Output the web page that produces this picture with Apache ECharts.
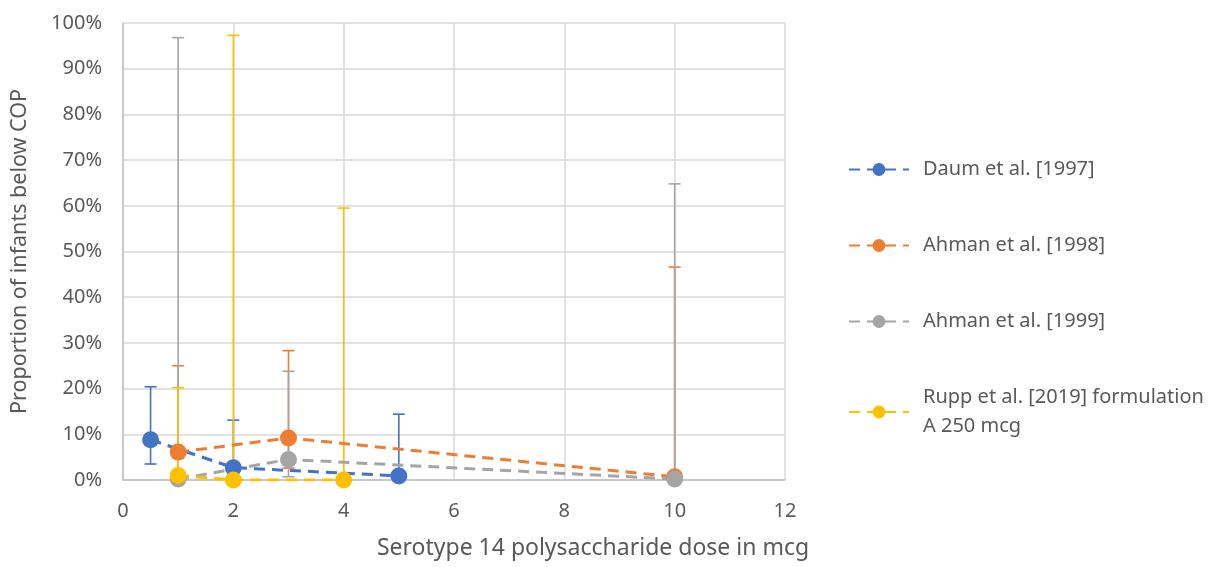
<!DOCTYPE html>
<html><head><meta charset="utf-8">
<script src="https://cdn.jsdelivr.net/npm/echarts@6/dist/echarts.min.js"></script>
<style>html,body{margin:0;padding:0;background:#fff}#c{width:1227px;height:567px}</style>
</head><body><div id="c"></div>
<script>
// Data (proportion in %)
const seriesNames = ['Daum et al. [1997]', 'Ahman et al. [1998]', 'Ahman et al. [1999]', 'Rupp et al. [2019] formulation\nA 250 mcg'];
const colors = ['#4472C4', '#ED7D31', '#A5A5A5', '#FFC000'];
const daumX = [0.5, 2, 5];
const daumY = [8.8, 2.7, 0.9];
const daumLo = [3.5, 2.7, 0.9];
const daumHi = [20.4, 13.1, 14.4];
const ahman98X = [1, 3, 10];
const ahman98Y = [6.1, 9.2, 0.7];
const ahman98Lo = [1.2, 2.6, 0.7];
const ahman98Hi = [25.0, 28.3, 46.6];
const ahman99X = [1, 3, 10];
const ahman99Y = [0.2, 4.5, 0.2];
const ahman99Lo = [0.2, 0.7, 0.2];
const ahman99Hi = [96.8, 23.8, 64.8];
const ruppX = [1, 2, 4];
const ruppY = [1.0, 0.0, 0.0];
const ruppLo = [1.0, 0.0, 0.0];
const ruppHi = [20.2, 97.3, 59.5];
const xTicks = [0, 2, 4, 6, 8, 10, 12];
const yTicks = [0, 10, 20, 30, 40, 50, 60, 70, 80, 90, 100];

const groups = [
  [daumX, daumY, daumLo, daumHi],
  [ahman98X, ahman98Y, ahman98Lo, ahman98Hi],
  [ahman99X, ahman99Y, ahman99Lo, ahman99Hi],
  [ruppX, ruppY, ruppLo, ruppHi]
];
const series = [];
groups.forEach((g, i) => {
  series.push({
    type: 'custom', name: seriesNames[i] + '_err', z: 1, silent: true,
    data: g[0].map((x, k) => [x, g[2][k], g[3][k]]),
    renderItem: function (params, api) {
      const x = api.value(0);
      const lo = api.coord([x, api.value(1)]);
      const hi = api.coord([x, api.value(2)]);
      const c = colors[i];
      const hw = 6;
      return {
        type: 'group', children: [
          { type: 'line', shape: { x1: lo[0], y1: lo[1], x2: hi[0], y2: hi[1] }, style: { stroke: c, lineWidth: 1.6 } },
          { type: 'line', shape: { x1: hi[0] - hw, y1: hi[1], x2: hi[0] + hw, y2: hi[1] }, style: { stroke: c, lineWidth: 1.6 } },
          { type: 'line', shape: { x1: lo[0] - hw, y1: lo[1], x2: lo[0] + hw, y2: lo[1] }, style: { stroke: c, lineWidth: 1.6 } }
        ]
      };
    }
  });
});
groups.forEach((g, i) => {
  series.push({
    type: 'line', name: seriesNames[i], z: 3,
    data: g[0].map((x, k) => [x, g[1][k]]),
    symbol: 'circle', symbolSize: 17,
    itemStyle: { color: colors[i] },
    lineStyle: { color: colors[i], width: 3, type: [11, 7] },
    emphasis: { disabled: true }
  });
});

const chart = echarts.init(document.getElementById('c'));
chart.setOption({
  animation: false,
  color: colors,
  grid: { left: 123, right: 442, top: 23, bottom: 87 },
  legend: {
    data: seriesNames,
    orient: 'vertical', left: 843, top: 150,
    itemWidth: 60, itemHeight: 16, itemGap: 47,
    textStyle: { fontFamily: 'Noto Sans', fontSize: 20, color: '#595959', lineHeight: 29, padding: [0, 0, 0, 9] }
  },
  xAxis: {
    type: 'value', min: 0, max: 12, interval: 2,
    name: 'Serotype 14 polysaccharide dose in mcg',
    nameLocation: 'middle', nameGap: 57,
    nameTextStyle: { fontFamily: 'Noto Sans', fontSize: 23, color: '#595959', padding: [0, 0, 0, 278] },
    axisLine: { show: true, lineStyle: { color: '#bfbfbf', width: 1.5 } },
    axisTick: { show: false },
    splitLine: { show: true, lineStyle: { color: '#d9d9d9', width: 1.5 } },
    axisLabel: { fontFamily: 'Noto Sans', fontSize: 20, color: '#595959', margin: 21 }
  },
  yAxis: {
    type: 'value', min: 0, max: 100, interval: 10,
    name: 'Proportion of infants below COP',
    nameLocation: 'middle', nameGap: 92, nameRotate: 90,
    nameTextStyle: { fontFamily: 'Noto Sans', fontSize: 21.5, color: '#595959' },
    axisLine: { show: true, lineStyle: { color: '#bfbfbf', width: 1.5 } },
    axisTick: { show: false },
    splitLine: { show: true, lineStyle: { color: '#d9d9d9', width: 1.5 } },
    axisLabel: { fontFamily: 'Noto Sans', fontSize: 20, color: '#595959', margin: 21, formatter: v => v + '%' }
  },
  series: series
});
</script></body></html>
